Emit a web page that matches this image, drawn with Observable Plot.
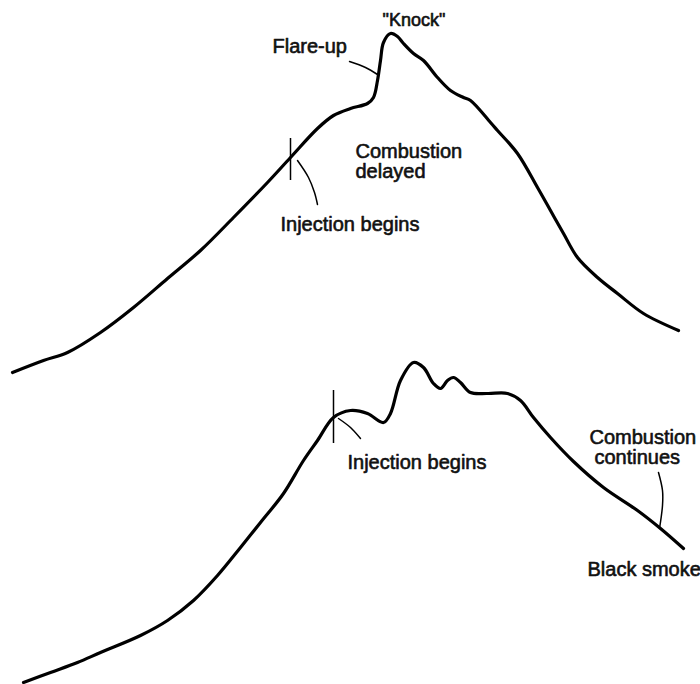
<!DOCTYPE html>
<html>
<head>
<meta charset="utf-8">
<script src="https://cdn.jsdelivr.net/npm/d3@7"></script>
<script src="https://cdn.jsdelivr.net/npm/@observablehq/plot@0.6"></script>
<style>
  html, body { margin: 0; padding: 0; background: #fff; }
  #chart svg { display: block; }
</style>
</head>
<body>
<div id="chart"></div>
<script>
// Crank position (horizontal units) and cylinder pressure (vertical units)
const normalAngle    = [12, 43, 67, 100, 133, 167, 200, 233, 267, 290, 317, 333, 350, 367, 373, 377, 380, 383, 390, 397, 403, 413, 423, 437, 450, 463, 470, 490, 497, 517, 537, 550, 563, 577, 597, 617, 643, 678];
const normalPressure = [312, 324, 332, 352, 377, 406, 434, 467, 502, 527, 556, 569, 576, 581, 587, 604, 624, 642, 651, 648, 641, 631, 624, 607, 594, 587, 584, 562, 554, 531, 497, 474, 451, 427, 407, 391, 371, 354];

const earlyAngle    = [23, 50, 77, 100, 140, 167, 193, 217, 240, 260, 283, 303, 317, 333, 350, 367, 383, 390, 400, 413, 423, 433, 440, 447, 453, 460, 470, 487, 507, 520, 533, 550, 573, 603, 637, 660, 683];
const earlyPressure = [2, 12, 22, 32, 49, 64, 84, 109, 137, 162, 191, 224, 244, 267, 274, 271, 262, 271, 304, 322, 317, 301, 296, 304, 307, 302, 292, 291, 291, 284, 267, 247, 223, 197, 174, 156, 136];

// Injection markers
const tickAngle = [290, 333];
const tickLow   = [504, 241];
const tickHigh  = [546, 294];

// Leader lines
const leaderId       = ["inj1", "inj1", "inj1", "inj1", "flare", "flare", "flare", "inj2", "inj2", "inj2", "cont", "cont", "cont", "cont"];
const leaderAngle    = [297, 308, 314, 317, 349, 365, 377, 338, 350, 360, 658, 662, 662, 659];
const leaderPressure = [524, 507, 492, 480, 623, 617, 610, 266, 257, 246, 212, 194, 179, 156];

// Labels
const labelText     = ["\"Knock\"", "Flare-up", "Combustion\ndelayed", "Injection begins", "Injection begins", "Combustion", "continues", "Black smoke"];
const labelAngle    = [382, 272, 355, 280, 347, 589, 594, 587];
const labelPressure = [659, 632, 507, 454, 216, 241, 221, 109];
const labelSize     = [18, 20, 20, 20, 20, 20, 20, 20];

const normal = normalAngle.map((a, i) => ({a, p: normalPressure[i]}));
const early = earlyAngle.map((a, i) => ({a, p: earlyPressure[i]}));
const ticks = tickAngle.map((a, i) => ({a, lo: tickLow[i], hi: tickHigh[i]}));
const leaders = leaderAngle.map((a, i) => ({id: leaderId[i], a, p: leaderPressure[i]}));
const labels = labelText.map((t, i) => ({t, a: labelAngle[i], p: labelPressure[i], s: labelSize[i]}));

const fontFamily = "'Liberation Sans', Arial, Helvetica, sans-serif";

const chart = Plot.plot({
  width: 700,
  height: 684,
  margin: 0,
  style: {background: "#fff", fontFamily},
  x: {domain: [0, 700], axis: null},
  y: {domain: [0, 684], axis: null},
  marks: [
    Plot.line(normal, {x: "a", y: "p", curve: "catmull-rom", stroke: "#000", strokeWidth: 3.2, strokeLinecap: "round", strokeLinejoin: "round"}),
    Plot.line(early, {x: "a", y: "p", curve: "catmull-rom", stroke: "#000", strokeWidth: 3.2, strokeLinecap: "round", strokeLinejoin: "round"}),
    Plot.ruleX(ticks, {x: "a", y1: "lo", y2: "hi", stroke: "#000", strokeWidth: 1.5}),
    Plot.line(leaders, {x: "a", y: "p", z: "id", curve: "catmull-rom", stroke: "#000", strokeWidth: 1.5}),
    ...labels.map(d => Plot.text([d], {x: "a", y: "p", text: "t", textAnchor: "start", lineAnchor: "bottom", lineHeight: 1, fontSize: d.s, fill: "#111", stroke: "#111", strokeWidth: 0.6, paintOrder: "stroke", fontFamily}))
  ]
});
document.getElementById("chart").appendChild(chart);
</script>
</body>
</html>
